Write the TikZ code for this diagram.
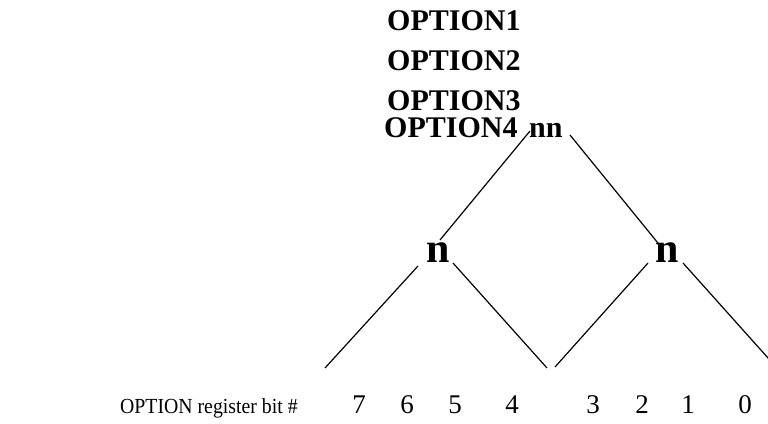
\documentclass[tikz,border=0pt]{standalone}
\usepackage{fontspec}
\setmainfont{Liberation Serif}
\begin{document}
\begin{tikzpicture}[x=1pt,y=-1pt,
  opt/.style={inner sep=0pt,anchor=base west,font=\fontsize{30}{36}\bfseries\selectfont},
  bign/.style={inner sep=0pt,anchor=base,font=\fontsize{42}{46}\bfseries\selectfont},
  digit/.style={inner sep=0pt,anchor=base,font=\fontsize{27}{32}\selectfont},
  lab/.style={inner sep=0pt,anchor=base west,font=\fontsize{21.5}{26}\selectfont},
  edge/.style={line width=1.2pt}]
\useasboundingbox (0,0) rectangle (768,423);
\clip (0,0) rectangle (768,423);
\node[opt] (o1) at (387,30) {OPTION1};
\node[opt] (o2) at (387,70) {OPTION2};
\node[opt] (o3) at (387,110) {OPTION3};
\node[opt] (o4) at (384,137) {OPTION4};
\node[opt] (nn) at (529,137) {nn};
\node[bign] (nl) at (438,262) {n};
\node[bign] (nr) at (667,262) {n};
\node[lab] (reg) at (120,413) {\scalebox{0.92}[1]{OPTION register bit \#}};
\foreach \d/\x in {7/359,6/407,5/455,4/512,3/593,2/642,1/688,0/745}
  \node[digit] (b\d) at (\x,413) {\d};
\coordinate (a1) at (530,131); \coordinate (a2) at (440,240);
\coordinate (c1) at (570,135); \coordinate (c2) at (662,248);
\coordinate (l1) at (418,266); \coordinate (l2) at (325,368);
\coordinate (l3) at (453,263); \coordinate (l4) at (547,368);
\coordinate (r1) at (648,263); \coordinate (r2) at (555,367);
\coordinate (r3) at (683,263); \coordinate (r4) at (777,368);
\draw[edge] (a1) -- (a2);
\draw[edge] (c1) -- (c2);
\draw[edge] (l1) -- (l2);
\draw[edge] (l3) -- (l4);
\draw[edge] (r1) -- (r2);
\draw[edge] (r3) -- (r4);
\end{tikzpicture}
\end{document}
